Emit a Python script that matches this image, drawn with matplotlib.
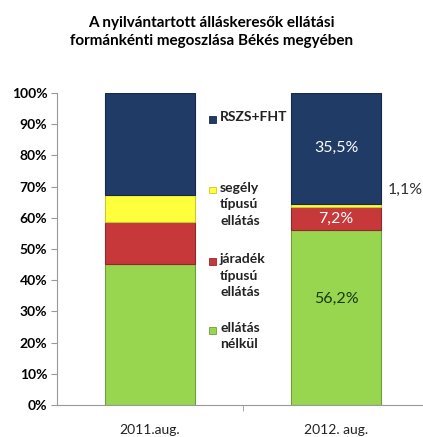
import matplotlib
matplotlib.use("Agg")
import matplotlib.pyplot as plt
from matplotlib.ticker import FuncFormatter

# data (percent shares)
categories = ["2011.aug.", "2012. aug."]
series_names = ["ellátás nélkül", "járadék típusú ellátás", "segély típusú ellátás", "RSZS+FHT"]
legend_labels = ["ellátás\nnélkül", "járadék\ntípusú\nellátás", "segély\ntípusú\nellátás", "RSZS+FHT"]
ellatas_nelkul = [45.2, 56.2]
jaradek = [13.5, 7.2]
segely = [8.6, 1.1]
rszs_fht = [32.7, 35.5]

colors = ["#98d650", "#c6383a", "#ffff3c", "#1f3b66"]
edge = ["#6f9e3a", "#8e2a2c", "#c8c830", "#16294a"]

plt.rcParams['font.family'] = ['Lato', 'DejaVu Sans']

fig = plt.figure(figsize=(4.23, 4.37), dpi=100)
ax = fig.add_axes([57/423, 1-405/437, 372/423, 312/437])

values = [ellatas_nelkul, jaradek, segely, rszs_fht]
x = range(len(categories))
bottom = [0, 0]
for vals, c, ec in zip(values, colors, edge):
    ax.bar(x, vals, width=0.48, bottom=bottom, color=c, edgecolor=ec, linewidth=0.8)
    bottom = [b + v for b, v in zip(bottom, vals)]

ax.set_xlim(-0.5, 1.5)
ax.set_ylim(0, 100)
ax.set_yticks(range(0, 101, 10))
ax.yaxis.set_major_formatter(FuncFormatter(lambda v, p: f"{int(v)}%"))
for lab in ax.get_yticklabels():
    lab.set_fontweight("bold")
    lab.set_fontsize(10)
ax.tick_params(axis="y", length=4, color="#999999", pad=3)

ax.set_xticks([0.5, 1.5], minor=True)
ax.set_xticks(list(x))
ax.set_xticklabels(categories, fontsize=10, color="#222222")
ax.tick_params(axis="x", which="major", length=0, pad=14)
ax.tick_params(axis="x", which="minor", length=4, color="#999999")

for side in ["top", "right"]:
    ax.spines[side].set_visible(False)
ax.spines["left"].set_color("#999999")
ax.spines["bottom"].set_color("#999999")

# value labels for 2012
i = 1
b = 0
lab_colors = ["#1a3a10", "white", None, "white"]
for vals, lc in zip(values, lab_colors):
    v = vals[i]
    txt = f"{v:.1f}%".replace(".", ",")
    if lc is None:
        ax.text(i + 0.37, b + v / 2 + 5, txt, ha="center", va="center", fontsize=11.5, color="#333333")
    else:
        ax.text(i, b + v / 2 + (6 if v > 50 else 0), txt, ha="center", va="center", fontsize=11.5, color=lc)
    b += v

# legend, evenly spaced entries like Excel
leg_y = [330, 261, 190, 119]
for lab, c, ec, yy in zip(legend_labels, colors, edge, leg_y):
    fy = 1 - yy / 437
    fig.patches.append(plt.Rectangle((209/423, fy - 3.5/437), 7/423, 7/437,
                                     transform=fig.transFigure, facecolor=c, edgecolor=ec, lw=0.6))
    fig.text(220/423, fy + 8/437, lab, ha="left", va="top", fontsize=10,
             fontweight="bold", color="#222222", linespacing=1.45)

fig.text(0.5, 1 - 32/437, "A nyilvántartott álláskeresők ellátási\nformánkénti megoszlása Békés megyében",
         ha="center", va="center", fontsize=11, fontweight="bold", linespacing=1.3)

fig.savefig("out.png", dpi=100)
